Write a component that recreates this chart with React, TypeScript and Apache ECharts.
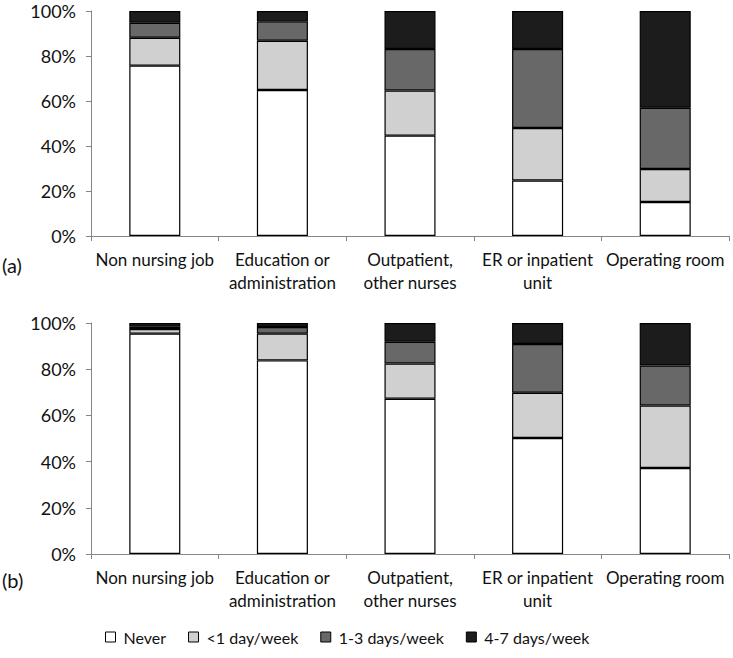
import React, { useEffect, useRef } from "react";
import * as echarts from "echarts";

const categories = [
  "Non nursing job",
  "Education or\nadministration",
  "Outpatient,\nother nurses",
  "ER or inpatient\nunit",
  "Operating room",
];
const seriesNames = ["Never", "<1 day/week", "1-3 days/week", "4-7 days/week"];
const seriesColors = ["#ffffff", "#d0d0d0", "#686868", "#1c1c1c"];

// Panel (a)
const aNever = [75.7, 64.9, 44.6, 24.7, 15.1];
const aLess1 = [12.4, 21.9, 20.1, 23.3, 14.7];
const a13 = [6.7, 8.6, 18.4, 35.1, 27.2];
const a47 = [5.2, 4.6, 16.9, 16.9, 43.0];

// Panel (b)
const bNever = [95.4, 83.8, 67.2, 50.2, 37.2];
const bLess1 = [2.0, 11.6, 15.3, 19.6, 27.1];
const b13 = [1.0, 2.9, 9.4, 21.1, 17.3];
const b47 = [1.6, 1.7, 8.1, 9.1, 18.4];

const yTicks = [0, 20, 40, 60, 80, 100];

const FONT = "Lato, 'Open Sans', sans-serif";

export default function App() {
  const ref = useRef<HTMLDivElement>(null);
  useEffect(() => {
    if (!ref.current) return;
    const chart = echarts.init(ref.current, null, { renderer: "svg" });
    const panels = [
      [aNever, aLess1, a13, a47],
      [bNever, bLess1, b13, b47],
    ];
    const mkX = (gi: number) => ({
      type: "category",
      gridIndex: gi,
      data: categories,
      axisLine: { show: true, lineStyle: { color: "#868686", width: 1 } },
      axisTick: { show: true, length: 5, lineStyle: { color: "#868686" } },
      axisLabel: {
        fontFamily: FONT,
        fontSize: 17,
        color: "#111",
        lineHeight: 23,
        margin: 12,
        interval: 0,
      },
    });
    const mkY = (gi: number) => ({
      type: "value",
      gridIndex: gi,
      min: yTicks[0],
      max: yTicks[yTicks.length - 1],
      interval: 20,
      axisLine: { show: true, lineStyle: { color: "#868686", width: 1 } },
      axisTick: { show: true, length: 5, lineStyle: { color: "#868686" } },
      splitLine: { show: false },
      axisLabel: {
        fontFamily: FONT,
        fontSize: 18,
        color: "#111",
        margin: 15,
        formatter: "{value}%",
      },
    });
    const series: any[] = [];
    panels.forEach((arrs, gi) => {
      arrs.forEach((arr, si) => {
        series.push({
          type: "bar",
          name: seriesNames[si],
          xAxisIndex: gi,
          yAxisIndex: gi,
          stack: "s" + gi,
          barWidth: "40%",
          data: arr,
          itemStyle: {
            color: seriesColors[si],
            borderColor: "#000",
            borderWidth: 1.2,
          },
        });
      });
    });
    chart.setOption({
      animation: false,
      backgroundColor: "#fff",
      grid: [
        { left: 91, right: 4, top: 11, height: 225 },
        { left: 91, right: 4, top: 323, height: 231 },
      ],
      xAxis: [mkX(0), mkX(1)],
      yAxis: [mkY(0), mkY(1)],
      legend: {
        data: seriesNames,
        left: 105,
        top: 629,
        padding: 0,
        icon: "rect",
        itemWidth: 10,
        itemHeight: 10,
        itemGap: 22,
        selectedMode: false,
        itemStyle: { borderColor: "#000", borderWidth: 1 },
        textStyle: { fontFamily: FONT, fontSize: 16, color: "#111", padding: [0, 0, 0, 3] },
      },
      graphic: [
        {
          type: "text",
          left: 2,
          top: 255,
          style: { text: "(a)", fontFamily: FONT, fontSize: 20, fill: "#111" },
        },
        {
          type: "text",
          left: 2,
          top: 570,
          style: { text: "(b)", fontFamily: FONT, fontSize: 20, fill: "#111" },
        },
      ],
      series,
    });
    return () => chart.dispose();
  }, []);
  return <div ref={ref} style={{ width: 733, height: 658, position: "absolute", left: 0, top: 0 }} />;
}
